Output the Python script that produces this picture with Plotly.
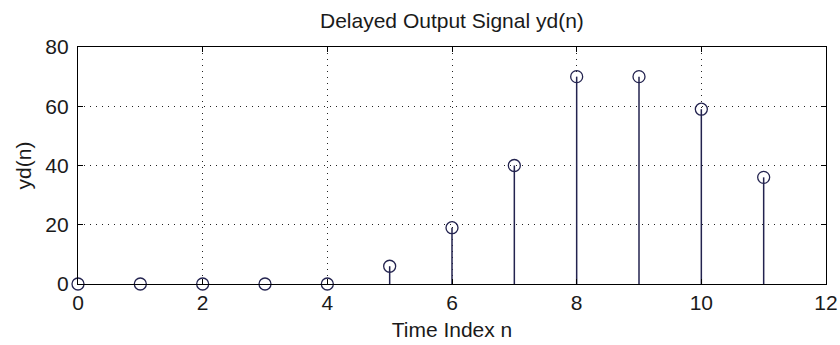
import plotly.graph_objects as go

# Delayed output sequence yd(n)
n_values = [0, 1, 2, 3, 4, 5, 6, 7, 8, 9, 10, 11]
yd_values = [0, 0, 0, 0, 0, 6, 19, 40, 70, 70, 59, 36]

title_text = "Delayed Output Signal yd(n)"
x_label = "Time Index n"
y_label = "yd(n)"

stem_color = "#23234f"
text_color = "#1a1a1a"
font_family = "Liberation Sans, Arial, sans-serif"
font_size = 21

# Stem lines from zero up to each sample value
stem_x, stem_y = [], []
for n, v in zip(n_values, yd_values):
    stem_x += [n, n, None]
    stem_y += [0, v, None]

fig = go.Figure()
fig.add_trace(go.Scatter(
    x=stem_x, y=stem_y, mode="lines",
    line=dict(color=stem_color, width=1.5),
    hoverinfo="skip", showlegend=False, cliponaxis=False,
))
fig.add_trace(go.Scatter(
    x=n_values, y=yd_values, mode="markers",
    marker=dict(symbol="circle-open", size=12,
                color=stem_color, line=dict(width=1.3, color=stem_color)),
    showlegend=False, cliponaxis=False,
))

axis_common = dict(
    showline=True, linecolor="black", linewidth=1.2, mirror="ticks",
    ticks="inside", ticklen=5, tickcolor="black", tickwidth=1,
    showgrid=True, gridcolor="#222", griddash="1px,5px", gridwidth=1.2,
    zeroline=False,
    tickfont=dict(family=font_family, size=font_size, color=text_color),
)

fig.update_layout(
    width=840, height=345,
    margin=dict(l=78, r=14, t=47, b=61),
    paper_bgcolor="white", plot_bgcolor="white",
    font=dict(family=font_family, color=text_color),
    title=dict(text=title_text, x=0.538, xanchor="center",
               y=0.94, yanchor="middle",
               font=dict(family=font_family, size=font_size, color=text_color)),
    xaxis=dict(range=[0, 12], tickmode="array",
               tickvals=[0, 2, 4, 6, 8, 10, 12],
               ticklabelstandoff=0, automargin=False,
               title=dict(text=x_label, standoff=9,
                          font=dict(family=font_family, size=font_size, color=text_color)),
               **axis_common),
    yaxis=dict(range=[0, 80], tickmode="array",
               tickvals=[0, 20, 40, 60, 80],
               ticklabelstandoff=4,
               title=dict(text=y_label, standoff=7,
                          font=dict(family=font_family, size=font_size, color=text_color)),
               **axis_common),
)

fig.write_html("out.html")
